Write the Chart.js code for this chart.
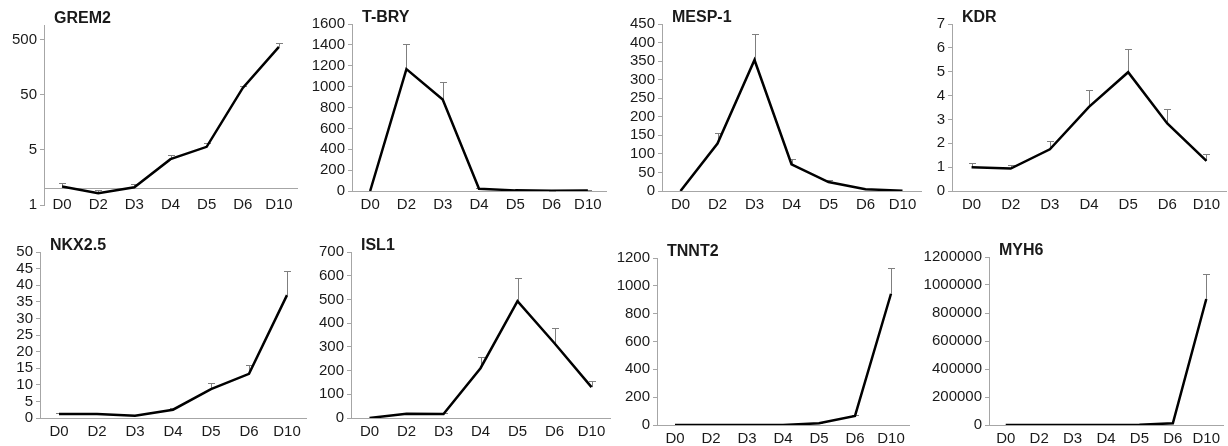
<!DOCTYPE html>
<html>
<head>
<meta charset="utf-8">
<title>Gene expression time course</title>
<script src="https://cdn.jsdelivr.net/npm/chart.js@4"></script>
<style>
  body { margin: 0; background: #fff; width: 1228px; height: 446px; position: relative; overflow: hidden; }
  canvas { position: absolute; }
</style>
</head>
<body>
<script>
const days = ['D0', 'D2', 'D3', 'D4', 'D5', 'D6', 'D10'];

// mean relative expression and upper SD per gene
const grem2 = [1.08, 0.82, 1.05, 3.4, 5.7, 67, 373];
const grem2Sd = [0.17, 0.12, 0.14, 0.7, 1.0, 6, 64];

const tbry = [0, 1168, 877, 22, 6, 3, 5];
const tbrySd = [0, 237, 169, 4, 1, 1, 1];

const mesp1 = [0, 128, 353, 72, 24, 5, 0.5];
const mesp1Sd = [0, 29, 70, 14, 5, 1, 0];

const kdr = [1.0, 0.94, 1.75, 3.53, 4.98, 2.83, 1.26];
const kdrSd = [0.19, 0.16, 0.34, 0.7, 0.98, 0.59, 0.27];

const nkx25 = [1.2, 1.2, 0.7, 2.5, 8.7, 13.3, 37];
const nkx25Sd = [0.2, 0.2, 0.2, 0.5, 1.8, 2.7, 7.2];

const isl1 = [0, 18, 17, 210, 493, 315, 130];
const isl1Sd = [0, 2, 2, 46, 98, 63, 24];

const tnnt2 = [0.5, 0.5, 0.5, 0.5, 12, 65, 943];
const tnnt2Sd = [0, 0, 0, 0, 2, 10, 185];

const myh6 = [0, 0, 0, 0, 2000, 12000, 900000];
const myh6Sd = [0, 0, 0, 0, 0, 0, 180000];

// y axis ranges: [max, step]; GREM2 is on a log axis crossing at 1
const grem2Ticks = [0.5, 5, 50, 500];
const yRanges = {
  tbry: [1600, 200],
  mesp1: [450, 50],
  kdr: [7, 1],
  nkx25: [50, 5],
  isl1: [700, 100],
  tnnt2: [1200, 200],
  myh6: [1200000, 200000]
};

// plot area of each panel on the page: left, right, top, bottom
const panels = [
  { title: 'GREM2', values: grem2, sd: grem2Sd, box: [44, 297, 25, 205], log: true },
  { title: 'T-BRY', values: tbry, sd: tbrySd, box: [352, 606, 24, 191], range: yRanges.tbry },
  { title: 'MESP-1', values: mesp1, sd: mesp1Sd, box: [662, 921, 24, 191], range: yRanges.mesp1 },
  { title: 'KDR', values: kdr, sd: kdrSd, box: [952, 1226, 24, 191], range: yRanges.kdr },
  { title: 'NKX2.5', values: nkx25, sd: nkx25Sd, box: [40, 306, 252, 418], range: yRanges.nkx25 },
  { title: 'ISL1', values: isl1, sd: isl1Sd, box: [351, 610, 252, 418], range: yRanges.isl1 },
  { title: 'TNNT2', values: tnnt2, sd: tnnt2Sd, box: [657, 909, 258, 425], range: yRanges.tnnt2 },
  { title: 'MYH6', values: myh6, sd: myh6Sd, box: [989, 1223, 257, 425], range: yRanges.myh6 }
];

const Y_W = 80, PAD_TOP = 22, X_H = 26, PAD_R = 3;
const FONT = '"Liberation Sans", Arial, sans-serif';
const AXIS = '#a6a6a6';
const TEXT = '#1a1a1a';

// panel title and upper error bars
const panelMarks = {
  id: 'panelMarks',
  beforeDatasetsDraw(chart, args, opts) {
    const { ctx } = chart;
    const x = chart.scales.x, y = chart.scales.y;
    ctx.save();
    ctx.strokeStyle = '#7f7f7f';
    ctx.lineWidth = 1;
    opts.values.forEach((v, i) => {
      const e = opts.sd[i];
      if (!e) return;
      const px = Math.round(x.getPixelForValue(i)) + 0.5;
      const y0 = y.getPixelForValue(v);
      const y1 = Math.round(y.getPixelForValue(v + e)) + 0.5;
      ctx.beginPath();
      ctx.moveTo(px, y0);
      ctx.lineTo(px, y1);
      ctx.moveTo(px - 3.5, y1);
      ctx.lineTo(px + 3.5, y1);
      ctx.stroke();
    });
    ctx.restore();
  },
  afterDraw(chart, args, opts) {
    const { ctx, chartArea } = chart;
    ctx.save();
    ctx.font = 'bold 16px ' + FONT;
    ctx.fillStyle = TEXT;
    ctx.textBaseline = 'middle';
    ctx.fillText(opts.title, chartArea.left + 10, chartArea.top - 6);
    ctx.restore();
  }
};

panels.forEach(p => {
  const [L, R, T, B] = p.box;
  const canvas = document.createElement('canvas');
  canvas.width = Y_W + (R - L) + PAD_R;
  canvas.height = PAD_TOP + (B - T) + X_H;
  canvas.style.left = (L - Y_W) + 'px';
  canvas.style.top = (T - PAD_TOP) + 'px';
  document.body.appendChild(canvas);

  const yScale = p.log ? {
    type: 'logarithmic',
    min: 0.5,
    max: 930,
    afterBuildTicks: s => { s.ticks = grem2Ticks.map(v => ({ value: v })); },
    ticks: { callback: v => (v < 1 ? '1' : String(v)) }
  } : {
    type: 'linear',
    min: 0,
    max: p.range[0],
    ticks: { stepSize: p.range[1], callback: v => String(v) }
  };

  new Chart(canvas.getContext('2d'), {
    type: 'line',
    data: {
      labels: days,
      datasets: [{
        data: p.values,
        borderColor: '#000',
        borderWidth: 2.5,
        pointRadius: 0,
        tension: 0,
        fill: false
      }]
    },
    options: {
      responsive: false,
      animation: false,
      // the log panel's x axis sits at y = 1, so it takes no room at the bottom
      layout: { padding: { top: PAD_TOP, right: PAD_R, left: 0, bottom: p.log ? X_H : 0 } },
      plugins: {
        legend: { display: false },
        tooltip: { enabled: false },
        panelMarks: { title: p.title, values: p.values, sd: p.sd }
      },
      scales: {
        x: {
          position: p.log ? { y: 1 } : 'bottom',
          offset: true,
          afterFit: s => { s.height = X_H; },
          grid: { display: true, drawOnChartArea: false, drawTicks: false },
          border: { display: true, color: AXIS, width: 1 },
          ticks: {
            padding: p.log ? 7 : 5,
            color: TEXT,
            font: { family: FONT, size: 15 },
            maxRotation: 0,
            autoSkip: false
          }
        },
        y: Object.assign(yScale, {
          afterFit: s => { s.width = Y_W; },
          grid: { display: true, drawOnChartArea: false, drawTicks: true, tickLength: 4, color: AXIS },
          border: { display: true, color: AXIS, width: 1 },
          ticks: Object.assign(yScale.ticks, {
            padding: 3,
            autoSkip: false,
            color: TEXT,
            font: { family: FONT, size: 15 }
          })
        })
      }
    },
    plugins: [panelMarks]
  });
});
</script>
</body>
</html>
